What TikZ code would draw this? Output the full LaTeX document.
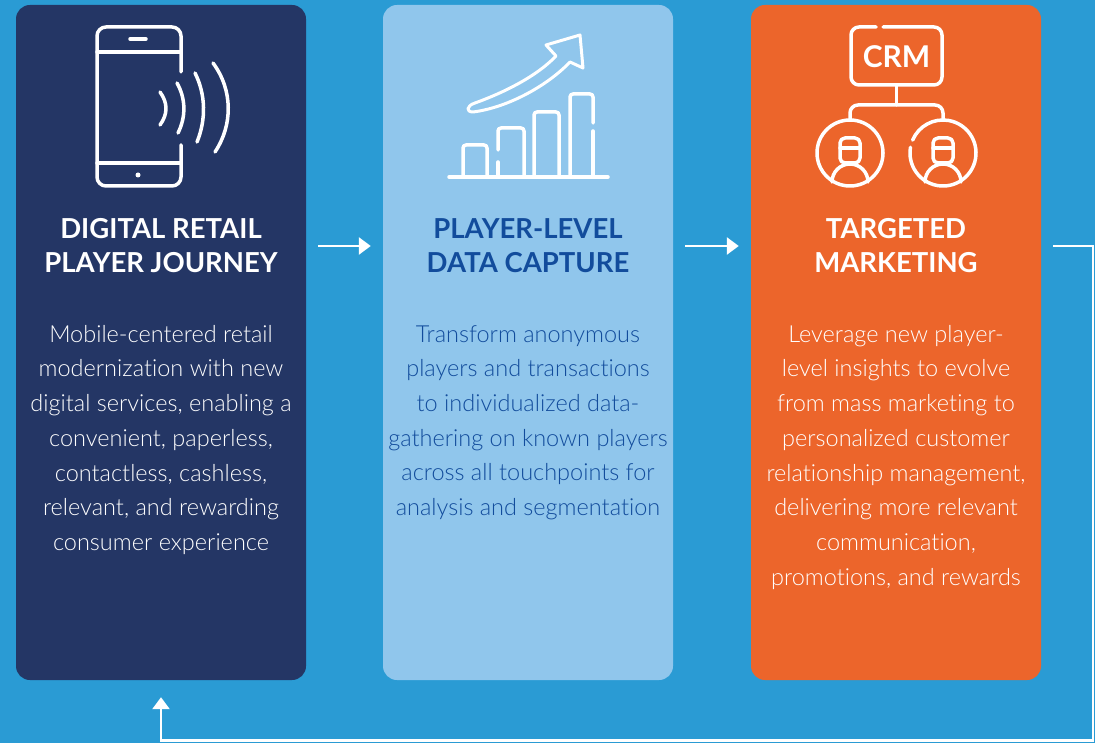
\documentclass[tikz,border=0pt]{standalone}
\usepackage{fontspec}
\setmainfont{Lato}
\newfontfamily\bodyfont{Lato Light}[Ligatures=NoCommon]
\usetikzlibrary{arrows.meta}
\definecolor{bgblue}{HTML}{2A9BD4}
\definecolor{navy}{HTML}{243665}
\definecolor{skyblue}{HTML}{90C6EC}
\definecolor{crmorange}{HTML}{EC652B}
\definecolor{inkblue}{HTML}{124C9C}

\begin{document}
\begin{tikzpicture}
  [x=1pt,y=-1pt,
   card/.style={rounded corners=14pt,minimum width=290pt,minimum height=675pt,inner sep=0pt},
   title/.style={font=\bfseries\fontsize{27.5}{34}\selectfont,align=center,inner sep=0pt},
   body/.style={font=\bodyfont\fontsize{23.5}{34.7}\selectfont,align=center,anchor=north,inner sep=0pt},
   icon/.style={draw=white,line width=3.5pt,line cap=round,line join=round},
   flow/.style={draw=white,line width=2.5pt,-{Triangle[length=12pt,width=17pt]}}]
  \fill[bgblue] (0,0) rectangle (1095,743);
  \node[card,fill=navy] (journey) at (161,342.5) {};
  \node[card,fill=skyblue] (capture) at (528,342.5) {};
  \node[card,fill=crmorange] (marketing) at (896,342.5) {};

  % phone
  \draw[icon,rounded corners=9pt] (181,72) -- (181,27) -- (97,27) -- (97,186) -- (181,186) -- (181,145);
  \draw[icon] (97,52) -- (181,52) (97,163) -- (181,163) (130,39) -- (146,39);
  \fill[white] (138,175) circle (2.5pt);
  \draw[icon] (160,92) .. controls (168,103) and (168,114) .. (160,125);
  \draw[icon] (177,83) .. controls (186,99) and (186,117) .. (178,133);
  \draw[icon] (195,73) .. controls (206,95) and (206,120) .. (197,142);
  \draw[icon] (213,63) .. controls (233,90) and (233,125) .. (215,152);

  % chart
  \draw[icon] (449,177) -- (608,177);
  \draw[icon,rounded corners=3pt] (463,177) -- (463,145) -- (487,145) -- (487,177);
  \draw[icon,rounded corners=3pt] (498,150) -- (498,128) -- (524,128) -- (524,177);
  \draw[icon] (498,162) -- (498,177);
  \draw[icon,rounded corners=3pt] (534,177) -- (534,112) -- (559,112) -- (559,177);
  \draw[icon,rounded corners=3pt] (570,177) -- (570,94) -- (593,94) -- (593,123);
  \draw[icon] (593,131) -- (593,177);
  \draw[icon,line width=3pt] (473,112) .. controls (505,108) and (545,88) .. (570,62) -- (583,68) -- (580,35) -- (546,45) -- (556,56)
    .. controls (535,78) and (500,94) .. (475,103) .. controls (466,106) and (466,112) .. (473,112) -- cycle;

  % crm
  \draw[icon,rounded corners=8pt] (883,27) -- (942,27) -- (942,85) -- (851,85) -- (851,27) -- (876,27);
  \node[font=\bfseries\fontsize{30}{30}\selectfont,text=white] (crm) at (896.5,57) {CRM};
  \draw[icon] (896.5,85) -- (896.5,105);
  \draw[icon,rounded corners=8pt] (850,120) -- (850,105) -- (943,105) -- (943,120);
  \draw[icon] (850,153) circle (33pt);
  \draw[icon] (943,153) ++(170:33pt) arc[start angle=170,end angle=517,radius=33pt];
  \foreach \cx in {850,943} {
    \draw[icon,rounded corners=5pt] (\cx-10,163) -- (\cx-10,138) -- (\cx+10,138) -- (\cx+10,163) -- cycle;
    \draw[icon] (\cx-10,148) -- (\cx+10,148);
    \draw[icon] (\cx-18,182) arc[start angle=180,end angle=0,radius=18pt];
  }

  \node[title,text=white] (journey-t) at (161,246) {DIGITAL RETAIL\\PLAYER JOURNEY};
  \node[title,text=inkblue] (capture-t) at (528,246) {PLAYER-LEVEL\\DATA CAPTURE};
  \node[title,text=white] (marketing-t) at (896,246) {TARGETED\\MARKETING};

  \node[body,text=white] (journey-b) at (161,325) {Mobile-centered retail\\modernization with new\\digital services, enabling a\\convenient, paperless,\\contactless, cashless,\\relevant, and rewarding\\consumer experience};
  \node[body,text=inkblue] (capture-b) at (528,325) {Transform anonymous\\players and transactions\\to individualized data-\\gathering on known players\\across all touchpoints for\\analysis and segmentation};
  \node[body,text=white] (marketing-b) at (896,325) {Leverage new player-\\level insights to evolve\\from mass marketing to\\personalized customer\\relationship management,\\delivering more relevant\\communication,\\promotions, and rewards};

  \foreach \from/\to in {journey/capture,capture/marketing}
    \draw[flow,shorten <=12pt,shorten >=12pt] (\from.east |- \from-t) -- (\to.west |- \from-t);
  \coordinate (loop-r) at (1093,249);
  \coordinate (loop-b) at (1093,740.5);
  \draw[flow,shorten <=12pt,shorten >=17pt] (marketing.east |- marketing-t) -- (loop-r |- marketing-t) -- (loop-b)
    -- (journey.south |- loop-b) -- (journey.south);
\end{tikzpicture}
\end{document}
